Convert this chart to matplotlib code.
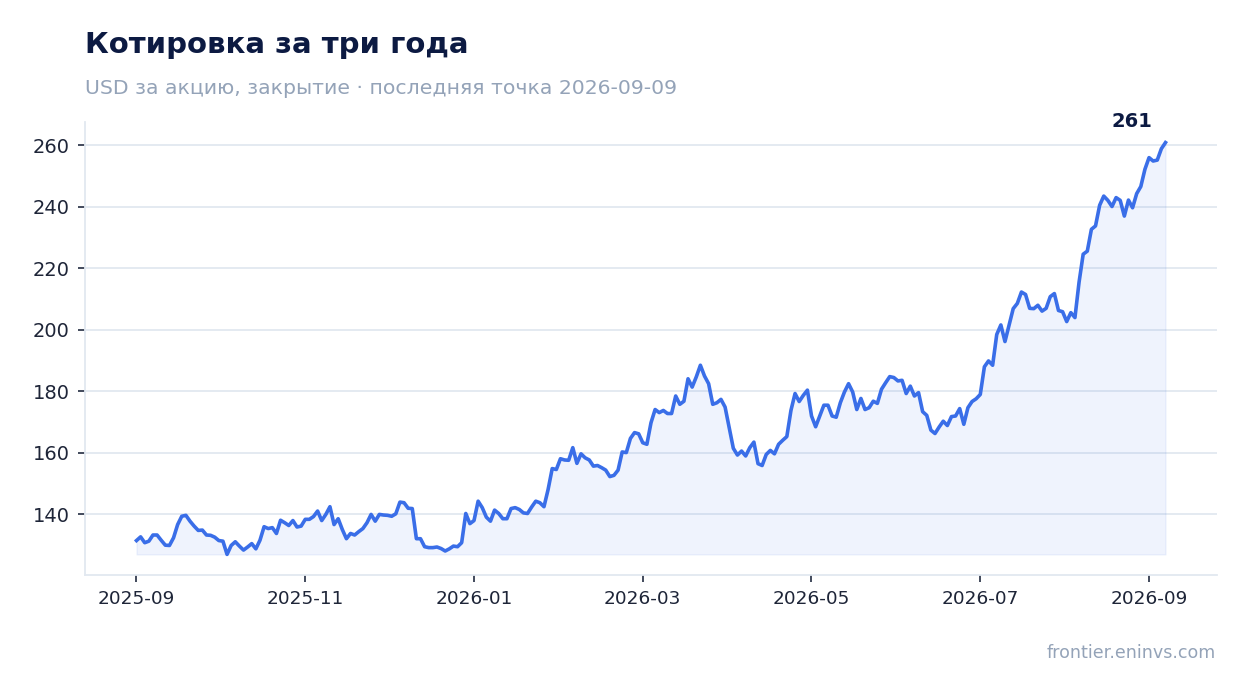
import pandas as pd
import matplotlib
matplotlib.use('Agg')
import matplotlib.pyplot as plt
from matplotlib.ticker import MultipleLocator

# Цены закрытия, USD
prices = [
    131.5, 132.7, 130.8, 131.3, 133.3, 133.3, 131.6, 130.0, 129.9, 132.4,
    136.7, 139.4, 139.7, 137.8, 136.2, 134.8, 134.9, 133.3, 133.2, 132.6,
    131.5, 131.3, 127.0, 129.9, 131.1, 129.7, 128.4, 129.4, 130.5, 128.8,
    131.6, 136.0, 135.4, 135.7, 133.8, 138.1, 137.3, 136.4, 138.0, 135.9,
    136.2, 138.4, 138.4, 139.3, 141.1, 138.0, 140.0, 142.5, 136.7, 138.6,
    135.1, 132.1, 133.8, 133.3, 134.4, 135.4, 137.3, 140.0, 137.8, 140.0,
    139.8, 139.7, 139.4, 140.2, 144.0, 143.8, 142.0, 141.9, 132.1, 132.1,
    129.5, 129.2, 129.2, 129.4, 128.9, 128.1, 128.8, 129.7, 129.5, 130.8,
    140.3, 137.0, 138.0, 144.3, 142.2, 139.1, 137.8, 141.4, 140.3, 138.6,
    138.6, 141.9, 142.2, 141.6, 140.5, 140.3, 142.4, 144.3, 143.8, 142.5,
    148.1, 154.9, 154.6, 158.1, 157.7, 157.6, 161.7, 156.6, 159.7, 158.4,
    157.7, 155.7, 155.9, 155.2, 154.4, 152.3, 152.7, 154.4, 160.3, 160.1,
    164.7, 166.6, 166.2, 163.3, 162.8, 169.8, 174.1, 173.1, 173.8, 172.8,
    172.8, 178.5, 175.8, 176.8, 184.1, 181.4, 184.7, 188.5, 185.0, 182.5,
    175.8, 176.3, 177.4, 174.9, 168.2, 161.5, 159.3, 160.6, 159.0, 161.7,
    163.5, 156.5, 155.9, 159.5, 160.8, 159.7, 162.8, 164.1, 165.3, 173.8,
    179.3, 176.7, 178.7, 180.4, 172.0, 168.5, 172.0, 175.5, 175.5, 172.0,
    171.6, 176.3, 179.8, 182.5, 179.8, 174.1, 177.7, 174.1, 174.7, 176.8,
    176.1, 180.7, 182.8, 184.8, 184.5, 183.4, 183.6, 179.3, 181.7, 178.5,
    179.6, 173.4, 172.2, 167.4, 166.3, 168.4, 170.3, 168.9, 171.8, 172.0,
    174.4, 169.3, 174.7, 176.7, 177.6, 179.0, 188.0, 189.9, 188.5, 198.5,
    201.6, 196.2, 201.6, 206.9, 208.6, 212.3, 211.5, 207.0, 206.9, 208.0,
    206.1, 207.0, 210.8, 211.8, 206.3, 205.9, 202.7, 205.6, 204.0, 215.5,
    224.6, 225.6, 232.7, 233.8, 240.5, 243.5, 242.1, 240.1, 243.0, 242.1,
    237.0, 242.2, 239.7, 244.3, 246.6, 252.2, 256.0, 254.9, 255.2, 258.9,
    260.9,
]
dates = pd.date_range('2025-09-01', '2026-09-07', periods=len(prices))

# подписи оси X (на графике стоят через равные промежутки)
tick_labels = ['2025-09', '2025-11', '2026-01', '2026-03', '2026-05', '2026-07', '2026-09']
tick_dates = pd.date_range('2025-09-01', '2026-09-01', periods=len(tick_labels))

title = 'Котировка за три года'
subtitle = 'USD за акцию, закрытие · последняя точка 2026-09-09'
source = 'frontier.eninvs.com'

line_color = '#3a6ee8'
navy = '#0c1a42'
grey = '#94a3b8'
grid_color = '#e2e8f0'

plt.rcParams['font.family'] = ['DejaVu Sans']

fig = plt.figure(figsize=(12.47, 6.93), dpi=100)
ax = fig.add_axes([0.0682, 0.1703, 0.9077, 0.6537])

ax.fill_between(dates, prices, min(prices), color=line_color, alpha=0.08, linewidth=1)
ax.plot(dates, prices, color=line_color, linewidth=2.6, solid_joinstyle='round')

# подпись последней точки
ax.annotate(f'{prices[-1]:.0f}', xy=(dates[-1], prices[-1]), xytext=(-24, 11),
            textcoords='offset points', ha='center', va='baseline',
            fontsize=14, fontweight='bold', color=navy)

ax.set_xticks(tick_dates)
ax.set_xticklabels(tick_labels)
ax.yaxis.set_major_locator(MultipleLocator(20))

ax.grid(True, axis='y', color=grid_color, linewidth=1.3)
ax.set_axisbelow(True)
for side in ['top', 'right']:
    ax.spines[side].set_visible(False)
for side in ['left', 'bottom']:
    ax.spines[side].set_color(grid_color)
    ax.spines[side].set_linewidth(1.3)

ax.tick_params(axis='both', colors='#333b4f', length=5, width=1.3, labelsize=13, pad=6)
ax.tick_params(axis='x', labelcolor='#1e2538', labelsize=13.3)
ax.tick_params(axis='y', labelcolor='#1e2538', labelsize=14)

fig.text(85 / 1247, 1 - 53 / 693, title, fontsize=21, fontweight='bold', color=navy,
         ha='left', va='baseline')
fig.text(85 / 1247, 1 - 94 / 693, subtitle, fontsize=14.7, color=grey,
         ha='left', va='baseline')
fig.text(1216 / 1247, 1 - 658 / 693, source, fontsize=12.6, color=grey,
         ha='right', va='baseline')

fig.savefig('out.png', dpi=100)
